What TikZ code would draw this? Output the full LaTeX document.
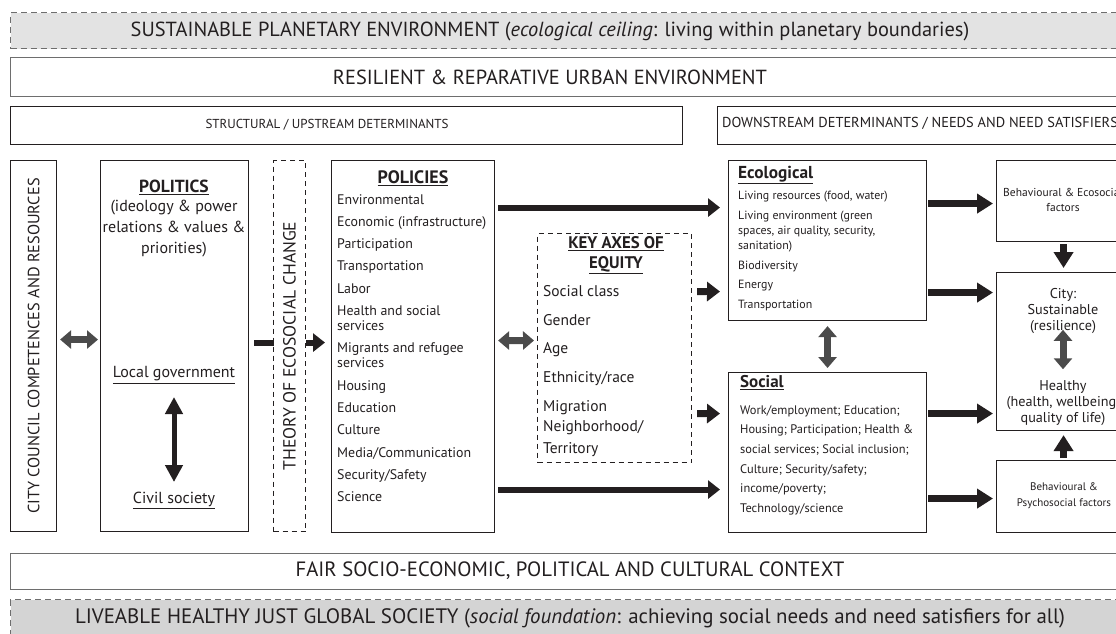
\documentclass[tikz,border=0pt]{standalone}
\usepackage{fontspec}
\setmainfont{PT Sans}
\usetikzlibrary{arrows.meta,positioning}

\definecolor{ink}{HTML}{231F20}
\definecolor{rim}{HTML}{6E6E6E}
\definecolor{bandtop}{HTML}{E3E3E3}
\definecolor{bandlow}{HTML}{D4D4D4}
\definecolor{twingray}{HTML}{4B4B4B}

\newcommand{\fs}[2]{\fontsize{#1}{#2}\selectfont}

\tikzset{
  frame/.style={draw=ink, line width=1.1pt, fill=white, inner sep=0pt, anchor=north west},
  band/.style={draw=rim, line width=1pt, dash pattern=on 6pt off 4pt, inner sep=0pt, anchor=north west},
  dashframe/.style={draw=ink, line width=1pt, dash pattern=on 5pt off 4pt, fill=white, inner sep=0pt, anchor=north west},
  txt/.style={text=ink, inner sep=0pt, align=center},
  item/.style={text=ink, inner sep=0pt, anchor=mid west},
  fat/.style={draw=ink, line width=6pt, -{Triangle[length=12pt,width=18pt]}},
  stub/.style={draw=ink, line width=7pt, -{Triangle[length=13pt,width=19pt]}},
  wide/.style={draw=ink, line width=7.5pt, -{Triangle[length=16pt,width=19pt]}},
  twin/.style={draw=twingray, line width=7pt, {Triangle[length=11pt,width=18pt]}-{Triangle[length=11pt,width=18pt]}},
  duo/.style={draw=ink, line width=5pt, {Triangle[length=17pt,width=17pt]}-{Triangle[length=17pt,width=17pt]}},
}

\begin{document}
\begin{tikzpicture}[x=1pt,y=-1pt]
\useasboundingbox (0,0) rectangle (1116,633);
\clip (0,0) rectangle (1116,633);

% outer context bands
\node[band, fill=bandtop, minimum width=1130pt, minimum height=36pt] (planet) at (10,12) {};
\node[txt, font=\fs{20.4}{22}] (planettxt) at (550,31) {SUSTAINABLE PLANETARY ENVIRONMENT (\textit{ecological ceiling}: living within planetary boundaries)};
\node[frame, draw=rim, minimum width=1130pt, minimum height=39pt] (urban) at (10,57) {};
\node[txt, font=\fs{20.4}{22}] (urbantxt) at (550,77) {RESILIENT \& REPARATIVE URBAN ENVIRONMENT};
\node[frame, minimum width=672pt, minimum height=38pt] (upstream) at (10,106) {};
\node[txt, font=\fs{13}{15}] (upstreamtxt) at (327,125) {STRUCTURAL / UPSTREAM DETERMINANTS};
\node[frame, minimum width=420pt, minimum height=38pt] (downstream) at (717,106) {};
\node[item, font=\fs{14.4}{15}] (downstreamtxt) at (722,125) {DOWNSTREAM DETERMINANTS / NEEDS AND NEED SATISFIERS};

% city council and politics
\node[frame, minimum width=46pt, minimum height=371pt] (council) at (10,160) {};
\node[txt, rotate=90, font=\fs{16.3}{18}] (counciltxt) at (council.center) {CITY COUNCIL COMPETENCES AND RESOURCES};
\node[frame, minimum width=148pt, minimum height=371pt] (politics) at (100,160) {};
\node[txt, font=\bfseries\fs{17.5}{21}] (polhead) at (174,187) {\underline{POLITICS}};
\node[txt, font=\fs{16}{21}] (polsub) at (174,229) {(ideology \& power\\relations \& values \&\\priorities)};
\node[txt, font=\fs{16}{21}] (localgov) at (174,375) {\underline{Local government}};
\node[txt, font=\fs{16}{21}] (civil) at (174,500) {\underline{Civil society}};

% policies
\node[frame, minimum width=163pt, minimum height=372pt] (policies) at (331,160) {};
\node[txt, font=\bfseries\fs{18}{20}] (polhd) at (413,178) {\underline{POLICIES}};
\foreach \y/\t [count=\i] in {202/Environmental, 224/Economic (infrastructure), 246/Participation,
  268/Transportation, 291/Labor, 313/Health and social, 328/services, 350/Migrants and refugee,
  365/services, 388/Housing, 410/Education, 432/Culture, 455/{Media/Communication},
  477/{Security/Safety}, 499/Science}
  \node[item, font=\fs{13.9}{15}] (pol\i) at (337,\y) {\t};

% key axes of equity
\node[dashframe, minimum width=154pt, minimum height=229pt] (equity) at (537,233) {};
\node[txt, font=\bfseries\fs{16.8}{20}] (equityhd) at (616,255) {\underline{KEY AXES OF}\\\underline{EQUITY}};
\foreach \y/\t [count=\i] in {294/Social class, 323/Gender, 351/Age, 380/{Ethnicity/race},
  409/Migration, 429/{Neighborhood/}, 451/Territory}
  \node[item, font=\fs{15.5}{16}] (axis\i) at (543,\y) {\t};

% ecological and social determinants
\node[frame, minimum width=198pt, minimum height=160pt] (ecol) at (728,160) {};
\node[item, font=\bfseries\fs{17.3}{19}] (ecolhd) at (738,176) {\underline{Ecological}};
\foreach \y/\t [count=\i] in {197/{Living resources (food, water)}, 217/{Living environment (green},
  232/{spaces, air quality, security,}, 247/{sanitation)}, 267/Biodiversity, 286/Energy, 306/Transportation}
  \node[item, font=\fs{11.9}{13}] (eco\i) at (738,\y) {\t};
\node[frame, minimum width=198pt, minimum height=160pt] (social) at (728,372) {};
\node[item, font=\bfseries\fs{17}{19}] (socialhd) at (740,385) {\underline{Social}};
\foreach \y/\t [count=\i] in {412/{Work/employment; Education;}, 431/{Housing; Participation; Health \&},
  451/{social services; Social inclusion;}, 471/{Culture; Security/safety;}, 490/{income/poverty;},
  510/{Technology/science}}
  \node[item, font=\fs{12.4}{13}] (soc\i) at (740,\y) {\t};

% outcomes
\node[frame, minimum width=134pt, minimum height=81pt] (ecobehav) at (996,160) {};
\node[txt, font=\fs{11.5}{15}] (ecobehavtxt) at (1063,200) {Behavioural \& Ecosocial\\factors};
\node[frame, minimum width=134pt, minimum height=158pt] (city) at (996,272) {};
\node[txt, font=\fs{14.2}{16}] (citytop) at (1063,311) {City:\\Sustainable\\(resilience)};
\node[txt, font=\fs{14.2}{16}] (cityhealth) at (1063,403) {Healthy\\(health, wellbeing,\\quality of life)};
\node[frame, minimum width=134pt, minimum height=72pt] (psybehav) at (996,460) {};
\node[txt, font=\fs{11}{16}] (psybehavtxt) at (1064,496) {Behavioural \&\\Psychosocial factors};

\node[frame, draw=rim, minimum width=1130pt, minimum height=36pt] (context) at (10,553) {};
\node[txt, font=\fs{20.7}{22}] (contexttxt) at (570,571) {FAIR SOCIO-ECONOMIC, POLITICAL AND CULTURAL CONTEXT};
\node[band, fill=bandlow, minimum width=1130pt, minimum height=60pt] (society) at (10,599) {};
\node[txt, font=\fs{20.9}{22}] (societytxt) at (570,618) {LIVEABLE HEALTHY JUST GLOBAL SOCIETY (\textit{social foundation}: achieving social needs and need satisfiers for all)};

% arrows
\draw[twin] ([xshift=3pt,yshift=6.5pt]council.east) -- ([xshift=-2pt,yshift=6.5pt]politics.west);
\draw[duo] ([yshift=-22pt]localgov.center) -- ([yshift=18pt]civil.center);
\draw[fat] ([xshift=5pt,yshift=3.5pt]politics.east) -- ([xshift=-6pt,yshift=4pt]policies.west);
\node[dashframe, minimum width=32pt, minimum height=371pt] (theory) at (273,160) {};
\node[txt, rotate=90, font=\fs{17.6}{18}] (theorytxt) at (theory.center) {THEORY OF ECOSOCIAL CHANGE};

\draw[fat] ([xshift=3pt,yshift=139pt]policies.east) -- ([xshift=-8pt,yshift=33pt]ecol.west);
\draw[fat] ([xshift=3pt,yshift=-143pt]policies.east) -- ([xshift=-8pt,yshift=-37pt]social.west);
\draw[twin] ([xshift=3pt,yshift=6pt]policies.east) -- ([xshift=-3pt,yshift=7.5pt]equity.west);
\draw[stub] ([xshift=5pt,yshift=56.5pt]equity.east) -- ([xshift=-8pt,yshift=-51pt]ecol.west);
\draw[stub] ([xshift=5pt,yshift=-65.5pt]equity.east) -- ([xshift=-8pt,yshift=39pt]social.west);
\draw[twin] ([yshift=-5pt]ecol.south) -- ([yshift=4pt]social.north);

\draw[wide] ([xshift=1pt,yshift=37pt]ecol.east) -- ([xshift=-3pt,yshift=-2.5pt]ecobehav.west);
\draw[wide] ([xshift=1pt,yshift=-52pt]ecol.east) -- ([xshift=-3pt,yshift=59pt]city.west);
\draw[wide] ([xshift=1pt,yshift=39pt]social.east) -- ([xshift=-3pt,yshift=-62pt]city.west);
\draw[wide] ([xshift=1pt,yshift=-46pt]social.east) -- ([xshift=-3pt,yshift=-2pt]psybehav.west);
\draw[wide] ([yshift=-2pt]ecobehav.south) -- ([yshift=4pt]city.north);
\draw[twin] ([yshift=4pt]citytop.south) -- ([yshift=11pt]cityhealth.north);
\draw[wide] ([yshift=2pt]psybehav.north) -- ([yshift=-4pt]city.south);

\end{tikzpicture}
\end{document}
